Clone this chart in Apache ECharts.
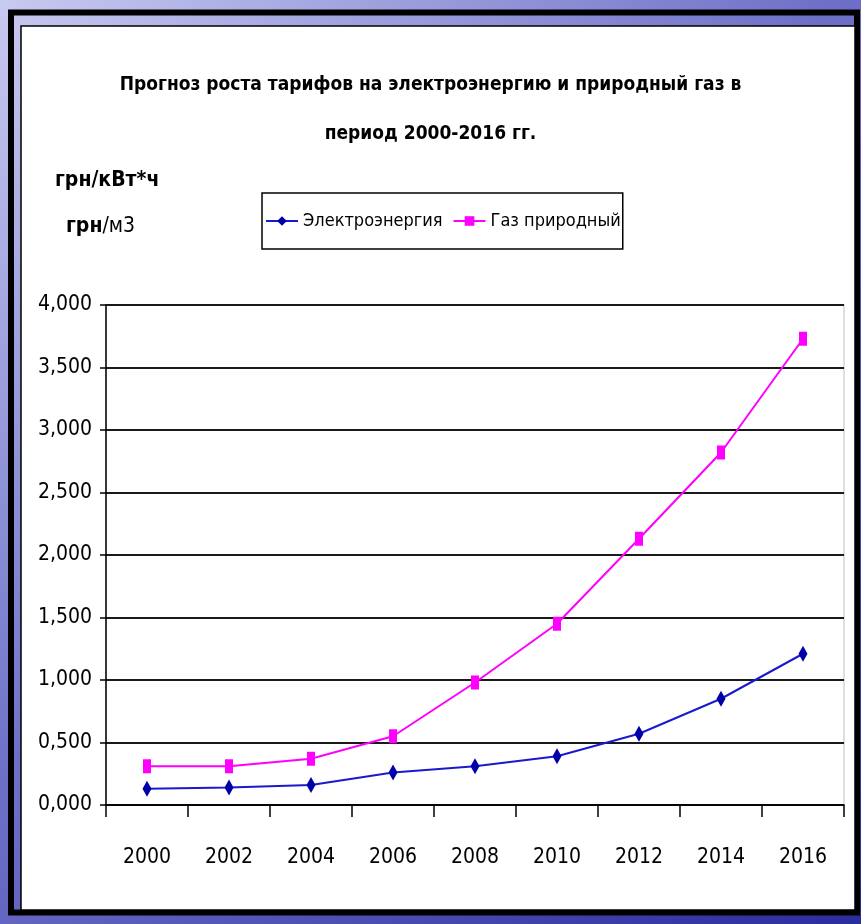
<!DOCTYPE html>
<html>
<head>
<meta charset="utf-8">
<script src="https://cdn.jsdelivr.net/npm/echarts@6/dist/echarts.min.js"></script>
<style>
  html, body { margin: 0; padding: 0; }
  #chart { width: 861px; height: 924px; }
</style>
</head>
<body>
<div id="chart"></div>
<script>
const years = ['2000', '2002', '2004', '2006', '2008', '2010', '2012', '2014', '2016']
const electricity = [0.13, 0.14, 0.16, 0.26, 0.31, 0.39, 0.57, 0.85, 1.21]
const gas = [0.31, 0.31, 0.37, 0.55, 0.98, 1.45, 2.13, 2.82, 3.73]
const seriesNames = ['Электроэнергия', 'Газ природный']

const FONT = "'Liberation Sans Narrow', 'Arial Narrow', 'DejaVu Sans Condensed', 'Liberation Sans', sans-serif"

const chart = echarts.init(document.getElementById('chart'))

chart.setOption({
  backgroundColor: new echarts.graphic.LinearGradient(0, 0, 1, 1, [
    {offset: 0, color: '#c8caf0'},
    {offset: 0.45, color: '#6e70c8'},
    {offset: 1, color: '#2a2d9c'}
  ]),
  graphic: [
    // outer thick frame
    {type: 'rect', z: -10, shape: {x: 11, y: 12.5, width: 846, height: 900},
      style: {fill: 'none', stroke: '#000', lineWidth: 6}},
    // white panel
    {type: 'rect', z: -9, shape: {x: 21, y: 26, width: 834, height: 884},
      style: {fill: '#fff', stroke: '#000', lineWidth: 1.5}},
    // unit labels
    {type: 'text', left: 55, top: 170, z: 5,
      style: {text: 'грн/кВт*ч', font: 'bold 21px ' + FONT, fill: '#000'}},
    {type: 'text', left: 66, top: 216, z: 5,
      style: {text: '{b|грн}/м3', font: '21px ' + FONT, fill: '#000',
        rich: {b: {fontWeight: 'bold', fontSize: 21, fontFamily: FONT}}}}
  ],
  title: {
    text: 'Прогноз роста тарифов на электроэнергию и природный газ в\nпериод 2000-2016 гг.',
    left: 'center',
    top: 56,
    textStyle: {
      fontFamily: FONT,
      fontWeight: 'bold',
      fontSize: 19,
      lineHeight: 49,
      color: '#000'
    }
  },
  legend: {
    data: seriesNames,
    orient: 'horizontal',
    left: 262,
    top: 193,
    padding: [19, 2, 19, 3],
    itemGap: 10,
    itemWidth: 32,
    itemHeight: 12,
    borderColor: '#000',
    borderWidth: 1.5,
    backgroundColor: '#fff',
    textStyle: {fontFamily: FONT, fontSize: 18, color: '#000'}
  },
  grid: {
    left: 106,
    right: 17,
    top: 305,
    bottom: 119,
    show: true,
    borderColor: '#d4d4d4',
    borderWidth: 1.5,
    backgroundColor: '#fff'
  },
  xAxis: {
    type: 'category',
    data: years,
    boundaryGap: true,
    axisLine: {lineStyle: {color: '#000', width: 1.5}},
    axisTick: {show: true, alignWithLabel: false, length: 12, lineStyle: {color: '#000', width: 1.5}},
    axisLabel: {fontFamily: FONT, fontSize: 21, color: '#000', margin: 42},
    splitLine: {show: false}
  },
  yAxis: {
    type: 'value',
    min: 0,
    max: 4,
    interval: 0.5,
    axisLine: {show: true, lineStyle: {color: '#000', width: 1.5}},
    axisTick: {show: true, length: 6, lineStyle: {color: '#000', width: 1.5}},
    axisLabel: {
      fontFamily: FONT, fontSize: 21, color: '#000', margin: 14,
      formatter: v => v.toFixed(3).replace('.', ',')
    },
    splitLine: {
      show: true,
      lineStyle: {color: '#1a1a1a', width: 2}
    }
  },
  series: [
    {
      name: seriesNames[0],
      type: 'line',
      data: electricity,
      symbol: 'diamond',
      symbolSize: [9, 16],
      lineStyle: {color: '#1a1acc', width: 2},
      itemStyle: {color: '#0000a8'},
      z: 3
    },
    {
      name: seriesNames[1],
      type: 'line',
      data: gas,
      symbol: 'rect',
      symbolSize: [8, 14],
      lineStyle: {color: '#ff00ff', width: 2},
      itemStyle: {color: '#ff00ff'},
      z: 4
    }
  ],
  animation: false
})
</script>
</body>
</html>
